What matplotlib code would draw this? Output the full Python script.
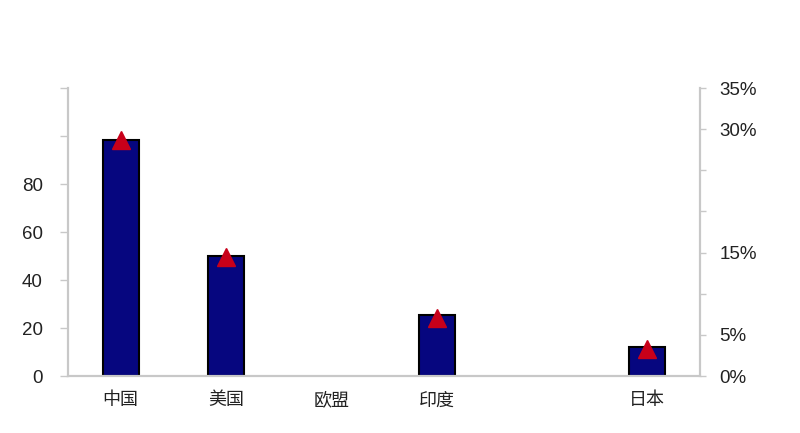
import numpy as np
import matplotlib
matplotlib.use("Agg")
from matplotlib import pyplot as plt

plt.rcParams['font.family'] = ['Liberation Sans', 'Noto Sans CJK SC', 'DejaVu Sans']

# data (erased bars / labels left empty)
countries = ['中国', '美国', '欧盟', '印度', '', '日本']
volume = [98.3, 50.1, np.nan, 25.3, np.nan, 11.9]
share_pct = [28.7, 14.5, np.nan, 7.1, np.nan, 3.3]

left_ticks = [0, 20, 40, 60, 80, 100, 120]
left_labels = ['0', '20', '40', '60', '80', '', '']
right_ticks = [0, 5, 10, 15, 20, 25, 30, 35]
right_labels = ['0%', '5%', '', '15%', '', '', '30%', '35%']

axis_grey = '#c8c8c8'
text_col = '#222222'

fig = plt.figure(figsize=(8, 4.33), dpi=100)
ax = fig.add_axes([0.085, 0.1316, 0.79, 0.665])
x = np.arange(len(countries))
ax.bar(x, volume, width=0.34, color='#06067f', edgecolor='black', linewidth=1.5)
ax.set_xlim(-0.5, len(countries) - 0.5)
ax.set_ylim(0, 120)
ax.set_yticks(left_ticks)
ax.set_yticklabels(left_labels)
ax.tick_params(axis='y', length=6, width=1, color=axis_grey, pad=12,
               labelsize=13.5, labelcolor=text_col)
ax.set_xticks(x)
ax.set_xticklabels(countries, family=['Noto Sans CJK SC', 'DejaVu Sans'])
ax.tick_params(axis='x', length=0, pad=11, labelsize=13, labelcolor=text_col)

ax2 = ax.twinx()
ax2.plot(x, share_pct, linestyle='none', marker='^', markersize=13,
         color='#c8001a')
ax2.set_ylim(0, 35)
ax2.set_yticks(right_ticks)
ax2.set_yticklabels(right_labels)
ax2.tick_params(axis='y', length=4, width=1, color=axis_grey, pad=10,
                labelsize=13.5, labelcolor=text_col)

for a in (ax, ax2):
    a.spines['top'].set_visible(False)
    for s in ('left', 'right', 'bottom'):
        a.spines[s].set_color(axis_grey)
        a.spines[s].set_linewidth(1.5)

fig.savefig('out.png', dpi=100)
